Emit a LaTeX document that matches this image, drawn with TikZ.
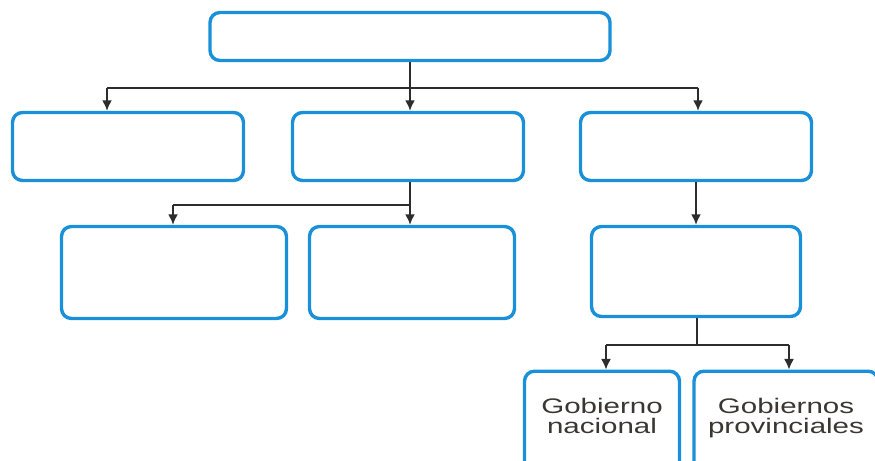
\documentclass[tikz,border=0pt]{standalone}
\usepackage{fontspec}
\setmainfont{Liberation Sans}
\newfontfamily\boxfont[FakeStretch=1.4]{Liberation Sans}
\usetikzlibrary{arrows.meta,positioning,calc}
\definecolor{boxblue}{RGB}{26,144,216}
\definecolor{linegray}{RGB}{45,45,45}
\definecolor{textgray}{RGB}{58,54,50}
\tikzset{
  box/.style={draw=boxblue,line width=2.9pt,rounded corners=8.5pt,fill=white,inner sep=0pt},
  boxtext/.style={font=\boxfont\fontsize{18}{17.5}\selectfont,text=textgray,align=center}
}

\begin{document}
\begin{tikzpicture}[x=0.03cm,y=-0.03cm]
          \useasboundingbox (0,0) rectangle (875,461);
          \clip (0,0) rectangle (875,461);

          \begin{scope}
              \node[box,minimum width=12cm,minimum height=1.44cm] (top) at (410,36.5) {};

              \node[box,minimum width=6.93cm,minimum height=2.04cm] (a1) at (128,146.5) {};
              \node[box,minimum width=6.93cm,minimum height=2.04cm] (a2) at (408,146.5) {};
              \node[box,minimum width=6.93cm,minimum height=2.04cm] (a3) at (696,146.5) {};

              \node[box,minimum width=6.75cm,minimum height=2.76cm] (b1) at (174,272.5) {};
              \node[box,minimum width=6.15cm,minimum height=2.76cm] (b2) at (412,272.5) {};
              \node[box,minimum width=6.27cm,minimum height=2.7cm]  (b3) at (696,271.5) {};

              \node[box,boxtext,anchor=north,minimum width=4.65cm,
                    text height=1.875cm,text depth=1.5cm] (nac) at (602,369.5)
                    {Gobierno\\nacional};
              \node[box,boxtext,anchor=north,minimum width=5.52cm,
                    text height=1.875cm,text depth=1.5cm] (prov) at (786,369.5)
                    {Gobiernos\\provinciales};
          \end{scope}

          % split points
          \coordinate (j0)  at (410,88);
          \coordinate (j0l) at (107,88);
          \coordinate (j0r) at (698,88);
          \coordinate (j1)  at (410,205);
          \coordinate (j1l) at (173,205);
          \coordinate (j3)  at (697,345);
          \coordinate (j3l) at (606,345);
          \coordinate (j3r) at (789,345);

          \begin{scope}[>={Latex[length=9pt,width=8.5pt]},
                        every edge/.style={draw=linegray,line width=1.3pt}]
              \path (top) edge (j0);
              \path (j0l) edge (j0r);
              \path [->] (j0l) edge (j0l |- a1.north);
              \path [->] (j0) edge (j0 |- a2.north);
              \path [->] (j0r) edge (j0r |- a3.north);

              \path (a2.south -| j1) edge (j1);
              \path (j1l) edge (j1);
              \path [->] (j1l) edge (j1l |- b1.north);
              \path [->] (j1) edge (j1 |- b2.north);

              \path [->] (a3) edge (b3);

              \path (b3.south -| j3) edge (j3);
              \path (j3l) edge (j3r);
              \path [->] (j3l) edge (j3l |- nac.north);
              \path [->] (j3r) edge (j3r |- prov.north);
          \end{scope}
\end{tikzpicture}
\end{document}
